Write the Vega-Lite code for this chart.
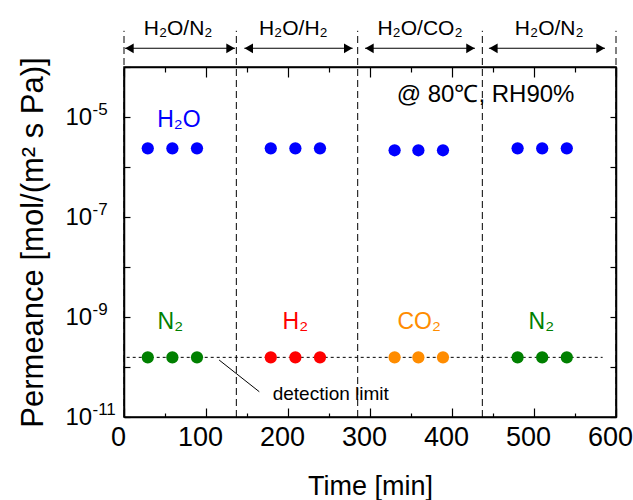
{
  "$schema": "https://vega.github.io/schema/vega-lite/v6.json",
  "width": 492,
  "height": 350,
  "autosize": {"type": "none"},
  "padding": {"left": 124, "top": 67, "right": 17, "bottom": 83},
  "background": "white",
  "config": {
    "view": {"stroke": "black", "strokeWidth": 1.5},
    "font": "Liberation Sans",
    "axis": {"grid": false, "domainColor": "black", "domainWidth": 1.5, "tickColor": "black", "tickWidth": 1.2, "labelColor": "black", "titleColor": "black", "labelFont": "Liberation Sans", "titleFont": "Liberation Sans", "titleFontWeight": "normal", "labelFlush": false, "labelOverlap": false},
    "text": {"font": "Liberation Sans"}
  },
  "datasets": {
    "pts": [
      {"t": 29, "v": 2.36e-6, "gas": "H2O"}, {"t": 59, "v": 2.36e-6, "gas": "H2O"}, {"t": 89, "v": 2.36e-6, "gas": "H2O"},
      {"t": 179, "v": 2.36e-6, "gas": "H2O"}, {"t": 209, "v": 2.36e-6, "gas": "H2O"}, {"t": 239, "v": 2.36e-6, "gas": "H2O"},
      {"t": 330, "v": 2.16e-6, "gas": "H2O"}, {"t": 359, "v": 2.16e-6, "gas": "H2O"}, {"t": 389, "v": 2.16e-6, "gas": "H2O"},
      {"t": 480, "v": 2.36e-6, "gas": "H2O"}, {"t": 510, "v": 2.36e-6, "gas": "H2O"}, {"t": 540, "v": 2.36e-6, "gas": "H2O"},
      {"t": 29, "v": 1.56e-10, "gas": "N2"}, {"t": 59, "v": 1.56e-10, "gas": "N2"}, {"t": 89, "v": 1.56e-10, "gas": "N2"},
      {"t": 179, "v": 1.56e-10, "gas": "H2"}, {"t": 209, "v": 1.56e-10, "gas": "H2"}, {"t": 239, "v": 1.56e-10, "gas": "H2"},
      {"t": 330, "v": 1.56e-10, "gas": "CO2"}, {"t": 359, "v": 1.56e-10, "gas": "CO2"}, {"t": 389, "v": 1.56e-10, "gas": "CO2"},
      {"t": 480, "v": 1.56e-10, "gas": "N2"}, {"t": 510, "v": 1.56e-10, "gas": "N2"}, {"t": 540, "v": 1.56e-10, "gas": "N2"}
    ],
    "gaslabels": [
      {"t": 67, "v": 6.3e-6, "text": "H₂O", "gas": "H2O"},
      {"t": 56.5, "v": 5.75e-10, "text": "N₂", "gas": "N2"},
      {"t": 209, "v": 5.75e-10, "text": "H₂", "gas": "H2"},
      {"t": 360, "v": 5.75e-10, "text": "CO₂", "gas": "CO2"},
      {"t": 509, "v": 5.75e-10, "text": "N₂", "gas": "N2"}
    ],
    "vlines": [{"t": 0}, {"t": 137}, {"t": 285}, {"t": 437}, {"t": 600}],
    "arrows": [{"a": 1.2, "b": 135.4}, {"a": 146.7, "b": 278.9}, {"a": 293.9, "b": 428}, {"a": 445, "b": 586.6}],
    "phases": [
      {"t": 66, "name": "H₂O/N₂"}, {"t": 206.5, "name": "H₂O/H₂"}, {"t": 361, "name": "H₂O/CO₂"}, {"t": 518.6, "name": "H₂O/N₂"}
    ],
    "notes": [
      {"t": 332.5, "v": 2.02e-5, "text": "@ 80℃,  RH90%"}
    ],
    "smallnotes": [
      {"t": 181.3, "v": 2.19e-11, "text": "detection limit"}
    ],
    "detlimit": [{"a": 3.3, "b": 583.7, "v": 1.56e-10}],
    "leader": [{"a": 116, "b": 165, "v1": 1.38e-10, "v2": 3.2e-11}]
  },
  "layer": [
    {
      "data": {"name": "vlines"},
      "mark": {"type": "rule", "color": "black", "strokeWidth": 1, "strokeDash": [7, 4]},
      "encoding": {
        "x": {"field": "t", "type": "quantitative", "scale": {"domain": [0, 600], "nice": false, "zero": false},
          "axis": {"orient": "top", "values": [0, 50, 100, 150, 200, 250, 300, 350, 400, 450, 500, 550, 600], "labels": false, "title": null,
            "tickSize": {"condition": {"test": "datum.value % 100 === 0", "value": -10}, "value": -5}}},
        "y": {"datum": 1e-11, "type": "quantitative", "scale": {"type": "log", "domain": [1e-11, 1e-4], "nice": false},
          "axis": {"orient": "right", "values": [1e-11, 1e-10, 1e-9, 1e-8, 1e-7, 1e-6, 1e-5, 1e-4], "labels": false, "title": null, "tickSize": -6}},
        "y2": {"datum": 5.3e-4}
      }
    },
    {
      "data": {"name": "detlimit"},
      "mark": {"type": "rule", "color": "black", "strokeWidth": 1, "strokeDash": [3, 3]},
      "encoding": {
        "x": {"field": "a", "type": "quantitative", "axis": null},
        "x2": {"field": "b"},
        "y": {"field": "v", "type": "quantitative",
          "axis": {"orient": "left", "values": [1e-11, 1e-10, 1e-9, 1e-8, 1e-7, 1e-6, 1e-5, 1e-4],
            "labelExpr": "round(log(datum.value)/LN10) === -5 ? '-5' : round(log(datum.value)/LN10) === -7 ? '-7' : round(log(datum.value)/LN10) === -9 ? '-9' : round(log(datum.value)/LN10) === -11 ? '-11' : ''",
            "domain": false, "ticks": false, "labelAlign": "left", "labelBaseline": "middle", "labelPadding": 32, "labelOffset": -8, "labelFontSize": 17, "title": null}}
      }
    },
    {
      "data": {"name": "leader"},
      "mark": {"type": "rule", "color": "black", "strokeWidth": 1},
      "encoding": {
        "x": {"field": "a", "type": "quantitative", "axis": null},
        "x2": {"field": "b"},
        "y": {"field": "v1", "type": "quantitative", "axis": null},
        "y2": {"field": "v2"}
      }
    },
    {
      "data": {"name": "arrows"},
      "mark": {"type": "rule", "color": "black", "strokeWidth": 1.2},
      "encoding": {
        "x": {"field": "a", "type": "quantitative", "axis": null},
        "x2": {"field": "b"},
        "y": {"datum": 2.37e-4, "type": "quantitative", "axis": null}
      }
    },
    {
      "data": {"name": "arrows"},
      "mark": {"type": "point", "shape": "triangle-left", "filled": true, "color": "black", "opacity": 1, "size": 95, "xOffset": 4.5},
      "encoding": {
        "x": {"field": "a", "type": "quantitative", "axis": null},
        "y": {"datum": 2.37e-4, "type": "quantitative", "axis": null}
      }
    },
    {
      "data": {"name": "arrows"},
      "mark": {"type": "point", "shape": "triangle-right", "filled": true, "color": "black", "opacity": 1, "size": 95, "xOffset": -4.5},
      "encoding": {
        "x": {"field": "b", "type": "quantitative", "axis": null},
        "y": {"datum": 2.37e-4, "type": "quantitative", "axis": null}
      }
    },
    {
      "data": {"name": "pts"},
      "mark": {"type": "circle", "size": 150, "opacity": 1},
      "encoding": {
        "x": {"field": "t", "type": "quantitative",
          "axis": {"orient": "bottom", "values": [0, 50, 100, 150, 200, 250, 300, 350, 400, 450, 500, 550, 600],
            "labelExpr": "datum.value % 100 === 0 ? datum.label : ''",
            "tickSize": {"condition": {"test": "datum.value % 100 === 0", "value": -9}, "value": -4},
            "labelFontSize": 27, "labelPadding": 16, "labelOffset": -6, "labelBaseline": "top",
            "title": "Time [min]", "titleFontSize": 27, "titlePadding": 18}},
        "y": {"field": "v", "type": "quantitative",
          "axis": {"orient": "left", "values": [1e-11, 1e-10, 1e-9, 1e-8, 1e-7, 1e-6, 1e-5, 1e-4],
            "labelExpr": "round(log(datum.value)/LN10) % 2 !== 0 && round(log(datum.value)/LN10) <= -5 ? '10' : ''",
            "tickSize": -6, "labelAlign": "left", "labelBaseline": "middle", "labelPadding": 65, "labelFontSize": 24,
            "title": "Permeance [mol/(m² s Pa)]", "titleFontSize": 31, "titleX": -82, "titleY": 175, "titleAngle": 270,
            "titleAlign": "center", "titleBaseline": "alphabetic"}},
        "color": {"field": "gas", "type": "nominal", "legend": null,
          "scale": {"domain": ["H2O", "N2", "H2", "CO2"], "range": ["#0000FF", "#008000", "#FF0000", "#FF8C00"]}}
      }
    },
    {
      "data": {"name": "gaslabels"},
      "mark": {"type": "text", "fontSize": 23, "align": "center", "baseline": "alphabetic"},
      "encoding": {
        "x": {"field": "t", "type": "quantitative", "axis": null},
        "y": {"field": "v", "type": "quantitative", "axis": null},
        "text": {"field": "text"},
        "color": {"field": "gas", "type": "nominal", "legend": null}
      }
    },
    {
      "data": {"name": "phases"},
      "mark": {"type": "text", "fontSize": 21, "align": "center", "baseline": "alphabetic", "color": "black"},
      "encoding": {
        "x": {"field": "t", "type": "quantitative", "axis": null},
        "y": {"datum": 4.4e-4, "type": "quantitative", "axis": null},
        "text": {"field": "name"}
      }
    },
    {
      "data": {"name": "notes"},
      "mark": {"type": "text", "fontSize": 24, "align": "left", "baseline": "alphabetic", "color": "black"},
      "encoding": {
        "x": {"field": "t", "type": "quantitative", "axis": null},
        "y": {"field": "v", "type": "quantitative", "axis": null},
        "text": {"field": "text"}
      }
    },
    {
      "data": {"name": "smallnotes"},
      "mark": {"type": "text", "fontSize": 19, "align": "left", "baseline": "alphabetic", "color": "black"},
      "encoding": {
        "x": {"field": "t", "type": "quantitative", "axis": null},
        "y": {"field": "v", "type": "quantitative", "axis": null},
        "text": {"field": "text"}
      }
    }
  ],
  "resolve": {"axis": {"x": "independent", "y": "independent"}}
}
